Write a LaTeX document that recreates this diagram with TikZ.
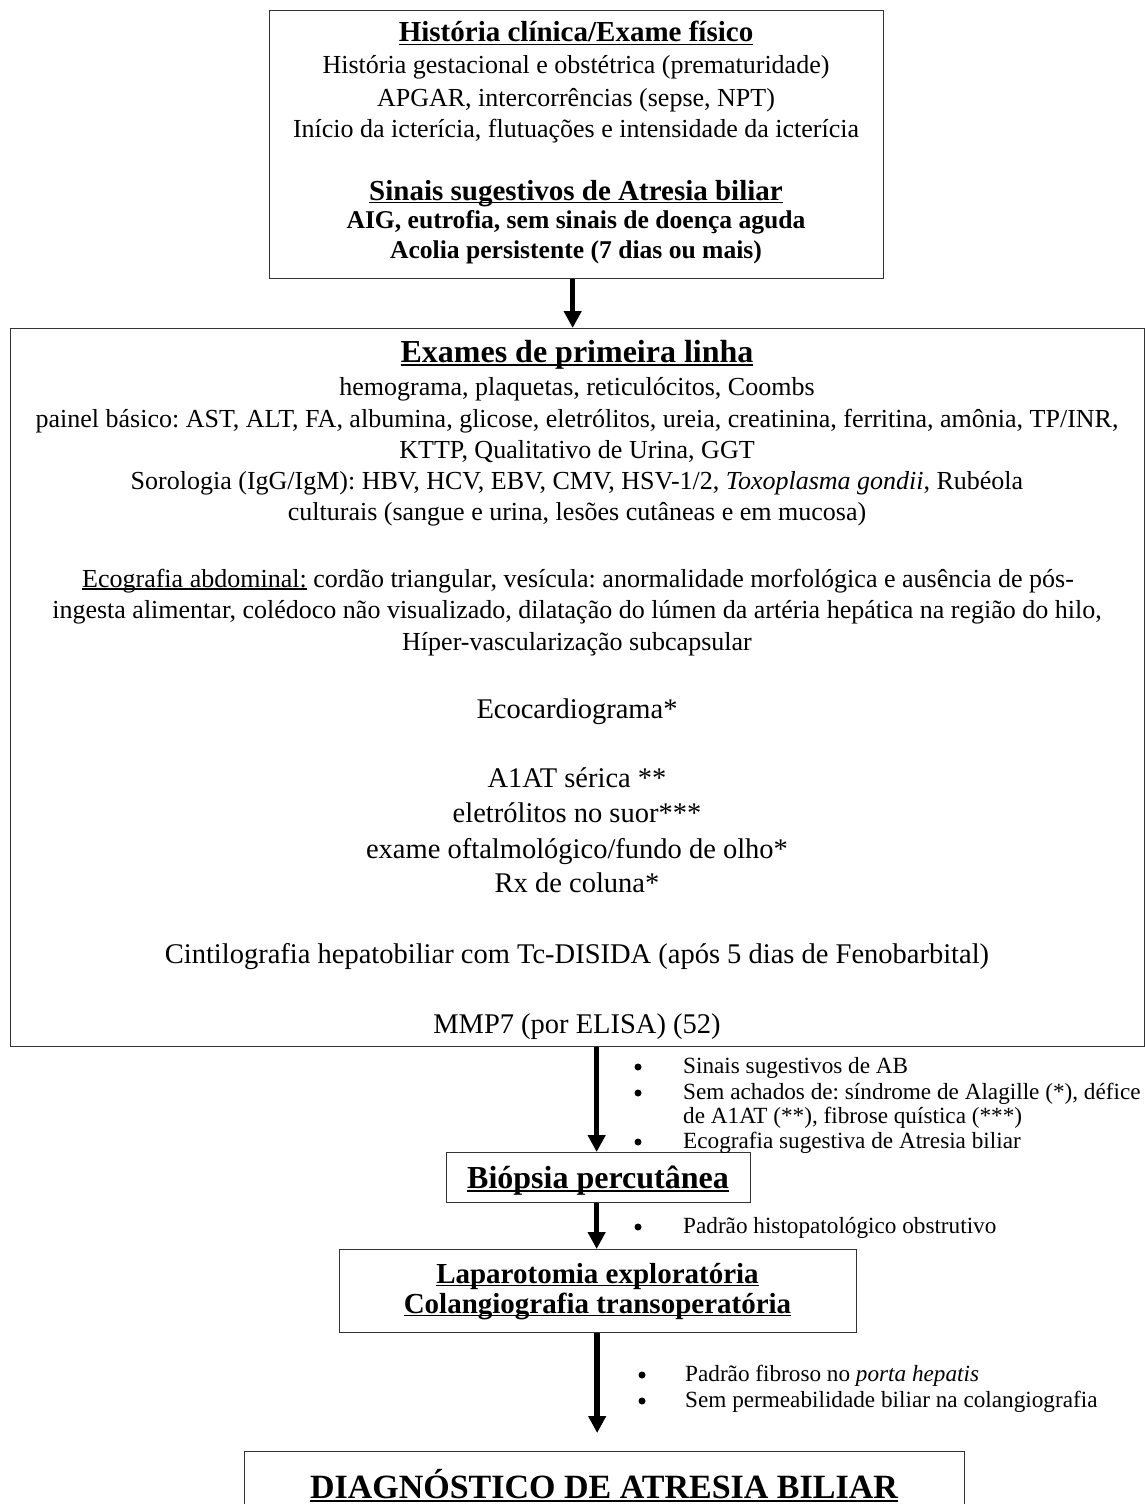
\documentclass[tikz,border=0pt]{standalone}
\usepackage{fontspec}
\setmainfont{Liberation Serif}
\usetikzlibrary{arrows.meta}
\frenchspacing
\newcommand\myul[1]{\setbox0\hbox{#1}\rlap{\rule[-0.12em]{\wd0}{0.065em}}\box0\relax}
\tikzset{
  box/.style={draw=black!80, line width=1.3pt, inner sep=0pt, anchor=north west},
  arr/.style={line width=5.5pt, -{Triangle[width=17pt,length=17pt]}},
  txt/.style={anchor=base, inner sep=0pt, font=\fontsize{26}{31}\selectfont},
  txtl/.style={anchor=base, inner sep=0pt, font=\fontsize{28.5}{34}\selectfont},
  tbold/.style={anchor=base, inner sep=0pt, font=\fontsize{25.6}{31}\selectfont\bfseries},
  ttitle/.style={anchor=base, inner sep=0pt, font=\fontsize{#1}{#1}\selectfont\bfseries},
  btxt/.style={anchor=base west, inner sep=0pt, font=\fontsize{23.2}{26}\selectfont},
  bdot/.style={circle, fill=black, inner sep=0pt, minimum size=7pt},
}
\begin{document}
\begin{tikzpicture}[x=1pt, y=-1pt]
\useasboundingbox (0,0) rectangle (1145,1504);
\clip (0,0) rectangle (1145,1504);
% boxes
\node[box, minimum width=614pt, minimum height=268pt] (b1) at (269,10) {};
\node[box, minimum width=1134pt, minimum height=718pt] (b2) at (10,328) {};
\node[box, minimum width=304pt, minimum height=50pt] (bio) at (446,1152) {};
\node[box, minimum width=517pt, minimum height=83pt] (lap) at (339,1249) {};
\node[box, minimum width=720pt, minimum height=75pt] (diag) at (244,1451) {};
% box 1 text
\node[ttitle=29] (t1a) at (576,42) {\myul{História clínica/Exame físico}};
\node[txt] (t1b) at (576,74) {História gestacional e obstétrica (prematuridade)};
\node[txt] (t1c) at (576,106) {APGAR, intercorrências (sepse, NPT)};
\node[txt] (t1d) at (576,137) {Início da icterícia, flutuações e intensidade da icterícia};
\node[ttitle=29] (t1e) at (576,200) {\myul{Sinais sugestivos de Atresia biliar}};
\node[tbold] (t1f) at (576,228) {AIG, eutrofia, sem sinais de doença aguda};
\node[tbold] (t1g) at (576,258) {Acolia persistente (7 dias ou mais)};
% box 2 text
\node[ttitle=32] (t2a) at (577,362) {\myul{Exames de primeira linha}};
\node[txt] (t2b) at (577,395) {hemograma, plaquetas, reticulócitos, Coombs};
\node[txt] (t2c) at (577,427) {painel básico: AST, ALT, FA, albumina, glicose, eletrólitos, ureia, creatinina, ferritina, amônia, TP/INR,};
\node[txt] (t2d) at (577,458) {KTTP, Qualitativo de Urina, GGT};
\node[txt] (t2e) at (577,489) {Sorologia (IgG/IgM): HBV, HCV, EBV, CMV, HSV-1/2, \textit{Toxoplasma gondii}, Rubéola};
\node[txt] (t2f) at (577,520) {culturais (sangue e urina, lesões cutâneas e em mucosa)};
\node[txt] (t2g) at (578,587) {\myul{Ecografia abdominal:} cordão triangular, vesícula: anormalidade morfológica e ausência de pós-};
\node[txt] (t2h) at (577,618) {ingesta alimentar, colédoco não visualizado, dilatação do lúmen da artéria hepática na região do hilo,};
\node[txt] (t2i) at (577,650) {Híper-vascularização subcapsular};
\node[txtl] (t2j) at (577,718) {Ecocardiograma*};
\node[txtl] (t2k) at (577,787) {A1AT sérica **};
\node[txtl] (t2l) at (577,822) {eletrólitos no suor***};
\node[txtl] (t2m) at (577,858) {exame oftalmológico/fundo de olho*};
\node[txtl] (t2n) at (577,892) {Rx de coluna*};
\node[txtl] (t2o) at (577,963) {Cintilografia hepatobiliar com Tc-DISIDA (após 5 dias de Fenobarbital)};
\node[txtl] (t2p) at (577,1033) {MMP7 (por ELISA) (52)};
% lower boxes text
\node[ttitle=32] (tbio) at (598,1188) {\myul{Biópsia percutânea}};
\node[ttitle=29] (tlap1) at (597.5,1283) {\myul{Laparotomia exploratória}};
\node[ttitle=29] (tlap2) at (597.5,1313) {\myul{Colangiografia transoperatória}};
\node[ttitle=34] (tdiag) at (604,1498) {\myul{DIAGNÓSTICO DE ATRESIA BILIAR}};
% bullets
\node[bdot] (d1) at (638,1067) {};
\node[btxt] (c1) at (683,1073) {Sinais sugestivos de AB};
\node[bdot] (d2) at (638,1093) {};
\node[btxt] (c2) at (683,1099) {Sem achados de: síndrome de Alagille (*), défice};
\node[btxt] (c2b) at (683,1123) {de A1AT (**), fibrose quística (***)};
\node[bdot] (d3) at (638,1142) {};
\node[btxt] (c3) at (683,1148) {Ecografia sugestiva de Atresia biliar};
\node[bdot] (d4) at (638,1227) {};
\node[btxt] (c4) at (683,1233) {Padrão histopatológico obstrutivo};
\node[bdot] (d5) at (642,1375) {};
\node[btxt] (c5) at (685,1381) {Padrão fibroso no \textit{porta hepatis}};
\node[bdot] (d6) at (642,1401) {};
\node[btxt] (c6) at (685,1407) {Sem permeabilidade biliar na colangiografia};
% arrows
\draw[arr] ([xshift=-4pt]b1.south) -- ([xshift=-4pt]b1.south |- b2.north);
\draw[arr] ([xshift=-2pt]bio.north |- b2.south) -- ([xshift=-2pt]bio.north);
\draw[arr] ([xshift=-2pt]bio.south) -- ([xshift=-2pt]bio.south |- lap.north);
\draw[arr, shorten >=18pt] ([xshift=-1pt]lap.south) -- ([xshift=-1pt]lap.south |- diag.north);
\end{tikzpicture}
\end{document}
